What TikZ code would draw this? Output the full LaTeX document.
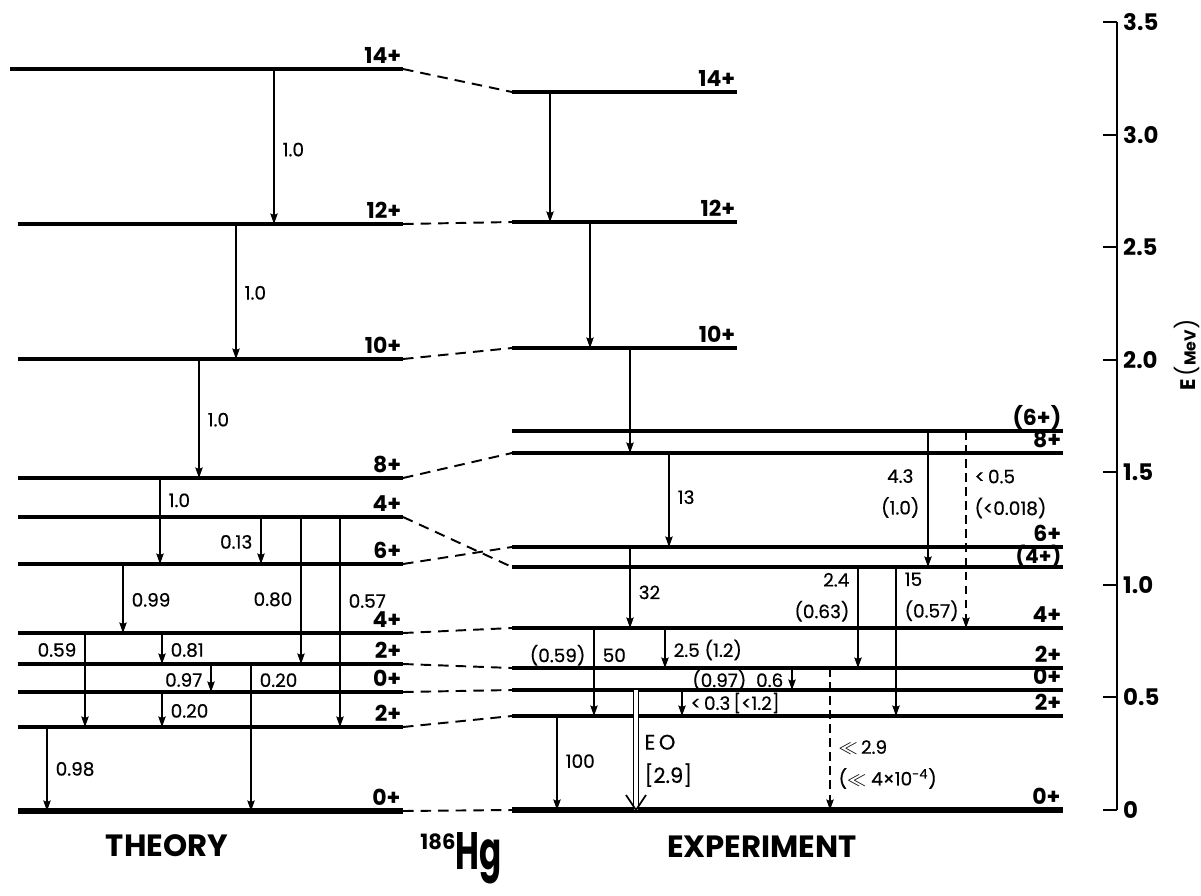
\documentclass[tikz,border=0pt]{standalone}
\usepackage{fontspec}
\setmainfont{Poppins}
\newfontfamily\numfont{Poppins}[FakeBold=0.5]
\usetikzlibrary{arrows.meta,calc}

\begin{document}
\begin{tikzpicture}[
  x=0.02cm, y=-0.02cm,
  lvl/.style={line width=2pt},
  gnd/.style={line width=3pt},
  link/.style={line width=1.1pt, dash pattern=on 6pt off 4pt},
  gam/.style={-{Stealth[length=6pt,width=4.2pt,inset=0.9pt]}, line width=0.9pt},
  weak/.style={gam, dash pattern=on 5pt off 3pt},
  eo/.style={double, double distance=0.9mm, line width=0.7pt},
  eotip/.style={line width=1pt},
  spin/.style={anchor=base east, inner sep=0pt, yshift=3pt, font=\fontsize{12.5}{13}\selectfont\bfseries},
  inten/.style={inner xsep=4.5pt, inner ysep=1pt, font=\fontsize{10.5}{12}\numfont},
  pair/.style={inten, font=\fontsize{10.5}{18}\numfont},
  axis/.style={line width=1.1pt},
  tickl/.style={anchor=west, inner sep=0pt, xshift=3pt, font=\fontsize{13}{13}\selectfont\bfseries},
  title/.style={font=\fontsize{17.5}{18}\selectfont\bfseries}
]
\useasboundingbox (0,0) rectangle (1201,896);

% line ends
\coordinate (TR) at (403,0);
\coordinate (EM) at (737,0);
\coordinate (ER) at (1063,0);

% theory levels
\coordinate (t14) at (10,69);
\coordinate (t12) at (18,224);
\coordinate (t10) at (18,359);
\coordinate (t8) at (18,478);
\coordinate (t4b) at (18,517);
\coordinate (t6) at (18,564);
\coordinate (t4) at (18,633);
\coordinate (t2b) at (18,664);
\coordinate (t0b) at (18,692);
\coordinate (t2) at (18,727);
\coordinate (t0) at (18,811);

\draw[lvl] (t14) -- (t14 -| TR) node[spin] (s14) {14+};
\draw[lvl] (t12) -- (t12 -| TR) node[spin] (s12) {12+};
\draw[lvl] (t10) -- (t10 -| TR) node[spin] (s10) {10+};
\draw[lvl] (t8) -- (t8 -| TR) node[spin] (s8) {8+};
\draw[lvl] (t4b) -- (t4b -| TR) node[spin] (s4b) {4+};
\draw[lvl] (t6) -- (t6 -| TR) node[spin] (s6) {6+};
\draw[lvl] (t4) -- (t4 -| TR) node[spin] (s4) {4+};
\draw[lvl] (t2b) -- (t2b -| TR) node[spin] (s2b) {2+};
\draw[lvl] (t0b) -- (t0b -| TR) node[spin] (s0b) {0+};
\draw[lvl] (t2) -- (t2 -| TR) node[spin] (s2) {2+};
\draw[gnd] (t0) -- (t0 -| TR) node[spin] (s0) {0+};

% experiment levels
\coordinate (e14) at (512,92);
\coordinate (e12) at (512,222);
\coordinate (e10) at (512,348);
\coordinate (e6b) at (512,431);
\coordinate (e8) at (512,453);
\coordinate (e6) at (512,547);
\coordinate (e4b) at (512,567);
\coordinate (e4) at (512,628);
\coordinate (e2b) at (512,668);
\coordinate (e0b) at (512,690);
\coordinate (e2) at (512,716);
\coordinate (e0) at (512,810);

\draw[lvl] (e14) -- (e14 -| EM) node[spin] (x14) {14+};
\draw[lvl] (e12) -- (e12 -| EM) node[spin] (x12) {12+};
\draw[lvl] (e10) -- (e10 -| EM) node[spin] (x10) {10+};
\draw[lvl] (e6b) -- (e6b -| ER) node[spin] (x6b) {(6+)};
\draw[lvl] (e8) -- (e8 -| ER) node[spin] (x8) {8+};
\draw[lvl] (e6) -- (e6 -| ER) node[spin] (x6) {6+};
\draw[lvl] (e4b) -- (e4b -| ER) node[spin,yshift=-1pt,font=\fontsize{11.5}{12}\selectfont\bfseries] (x4b) {(4+)};
\draw[lvl] (e4) -- (e4 -| ER) node[spin] (x4) {4+};
\draw[lvl] (e2b) -- (e2b -| ER) node[spin] (x2b) {2+};
\draw[lvl] (e0b) -- (e0b -| ER) node[spin] (x0b) {0+};
\draw[lvl] (e2) -- (e2 -| ER) node[spin] (x2) {2+};
\draw[gnd] (e0) -- (e0 -| ER) node[spin] (x0) {0+};

% theory to experiment
\draw[link] (t14 -| TR) -- (e14);
\draw[link] (t12 -| TR) -- (e12);
\draw[link] (t10 -| TR) -- (e10);
\draw[link] (t8 -| TR) -- (e8);
\draw[link] (t4b -| TR) -- (e4b);
\draw[link] (t6 -| TR) -- (e6);
\draw[link] (t4 -| TR) -- (e4);
\draw[link] (t2b -| TR) -- (e2b);
\draw[link] (t0b -| TR) -- (e0b);
\draw[link] (t2 -| TR) -- (e2);
\draw[link] (t0 -| TR) -- (e0);

% theory transitions
\draw[gam] (274,0 |- t14) -- node[inten,right,pos=.52] (g1) {1.0} (274,0 |- t12);
\draw[gam] (236,0 |- t12) -- node[inten,right,pos=.51] (g2) {1.0} (236,0 |- t10);
\draw[gam] (199,0 |- t10) -- node[inten,right,pos=.51] (g3) {1.0} (199,0 |- t8);
\draw[gam] (160,0 |- t8) -- node[inten,right,pos=.26] (g4) {1.0} (160,0 |- t6);
\draw[gam] (261,0 |- t4b) -- node[inten,left,pos=.53] (g5) {0.13} (261,0 |- t6);
\draw[gam] (301,0 |- t4b) -- node[inten,left,pos=.56] (g6) {0.80} (301,0 |- t2b);
\draw[gam] (340,0 |- t4b) -- node[inten,right,pos=.40] (g7) {0.57} (340,0 |- t2);
\draw[gam] (123,0 |- t6) -- node[inten,right,pos=.52] (g8) {0.99} (123,0 |- t4);
\draw[gam] (85,0 |- t4) -- node[inten,left,pos=.18] (g9) {0.59} (85,0 |- t2);
\draw[gam] (162,0 |- t4) -- node[inten,right,pos=.55] (g10) {0.81} (162,0 |- t2b);
\draw[gam] (211,0 |- t2b) -- node[inten,left,pos=.57] (g11) {0.97} (211,0 |- t0b);
\draw[gam] (251,0 |- t2b) -- node[inten,right,pos=.11] (g12) {0.20} (251,0 |- t0);
\draw[gam] (162,0 |- t0b) -- node[inten,right,pos=.54] (g13) {0.20} (162,0 |- t2);
\draw[gam] (47,0 |- t2) -- node[inten,right,pos=.5] (g14) {0.98} (47,0 |- t0);

% experimental transitions
\draw[gam] (550,0 |- e14) -- (550,0 |- e12);
\draw[gam] (590,0 |- e12) -- (590,0 |- e10);
\draw[gam] (630,0 |- e10) -- (630,0 |- e8);
\draw[gam] (669,0 |- e8) -- node[inten,right,pos=.47] (y13) {13} (669,0 |- e6);
\draw[gam] (928,0 |- e6b) -- node[pair,left,align=center,pos=.46] (y43) {4.3\\(1.0)} (928,0 |- e4b);
\draw[weak] (966,0 |- e6b) -- node[pair,right,align=left,pos=.32] (y05) {<\,0.5\\(<0.018)} (966,0 |- e4);
\draw[gam] (630,0 |- e6) -- node[inten,right,pos=.56] (y32) {32} (630,0 |- e4);
\draw[gam] (858,0 |- e4b) -- node[pair,left,align=right,pos=.30] (y24) {2.4\\(0.63)} (858,0 |- e2b);
\draw[gam] (896,0 |- e4b) -- node[pair,right,align=left,pos=.20] (y15) {15\\(0.57)} (896,0 |- e2);
\draw[gam] (594,0 |- e4) -- node[inten,left,pos=.31] (y059) {(0.59)}
  node[inten,right,pos=.31] (y50) {50} (594,0 |- e2);
\draw[gam] (665,0 |- e4) -- node[inten,right,pos=.55] (y25) {2.5 (1.2)} (665,0 |- e2b);
\draw[gam] (792,0 |- e2b) -- node[inten,left,pos=.55] (y06) {(0.97)\ \ 0.6} (792,0 |- e0b);
\draw[gam] (682,0 |- e0b) -- node[inten,right,pos=.5] (y03) {<\,0.3\,[<1.2]} (682,0 |- e2);
\draw[gam] (557,0 |- e2) -- node[inten,right,pos=.48] (y100) {100} (557,0 |- e0);
\draw[eo] (636,0 |- e0b) -- node[pair,right,align=left,pos=.59,font=\fontsize{12}{19}\numfont] (yeo) {E\,O\\{}[2.9]} (636,0 |- e0);
\draw[eotip] ($(636,0 |- e0)+(-10,-15)$) -- (636,0 |- e0) -- ++(10,-15);
\draw[weak] (830,0 |- e2b) -- node[pair,right,align=left,pos=.68] (yll)
  {$\ll$\,2.9\\($\ll$ 4×10\textsuperscript{-4})} (830,0 |- e0);

% energy scale
\coordinate (ax0) at (1117,810);
\coordinate (ax35) at (1117,22);
\draw[axis] (ax35) -- (ax0);
\foreach \v/\l [count=\i] in {0/0,0.5/0.5,1/1.0,1.5/1.5,2/2.0,2.5/2.5,3/3.0,3.5/3.5}
  \draw[axis] (ax0) ++(-14,{-225.14*\v}) -- ++(14,0) node[tickl] (tk\i) {\l};
\node[rotate=90, inner sep=0pt] (eunit) at (1187,355)
  {{\fontsize{12}{12}\selectfont\bfseries E}\,{\fontsize{13}{13}\selectfont(}{\fontsize{9}{10}\selectfont\bfseries MeV}{\fontsize{13}{13}\selectfont)}};

% captions
\node[title] (theory) at (167,846) {THEORY};
\node[title] (expt) at (762,847) {EXPERIMENT};
\node[inner sep=0pt, font=\fontsize{30}{30}\selectfont\bfseries] (hg) at (479,858) {\scalebox{0.62}[1]{Hg}};
\node[inner sep=0pt, font=\fontsize{12}{12}\selectfont\bfseries] (mass) at (438,842) {186};
\end{tikzpicture}
\end{document}
